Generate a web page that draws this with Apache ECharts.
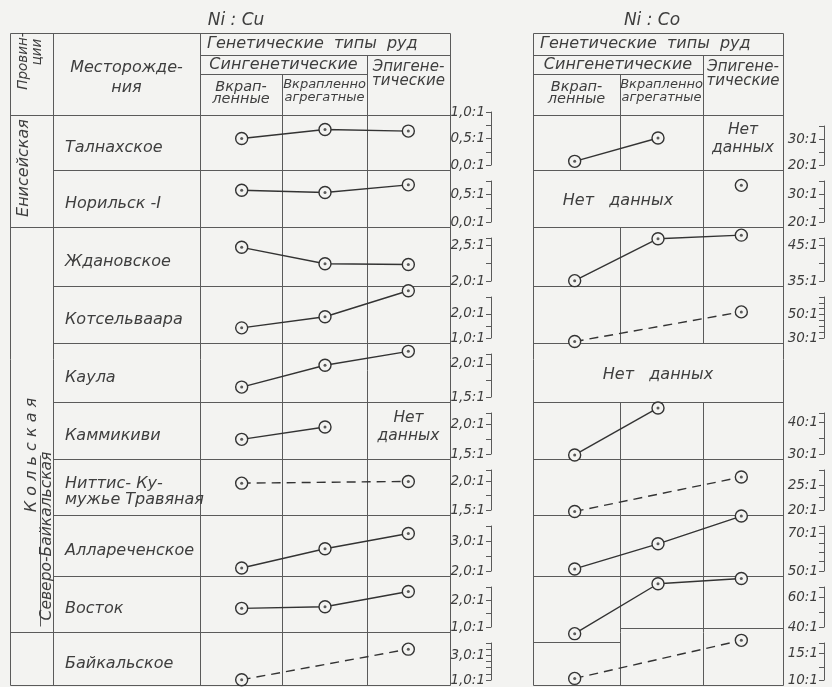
<!DOCTYPE html>
<html>
<head>
<meta charset="utf-8">
<script src="https://cdn.jsdelivr.net/npm/echarts@6/dist/echarts.min.js"></script>
<style>
  html, body { margin: 0; padding: 0; background: #f3f3f1; }
  #chart { width: 832px; height: 687px; }
</style>
</head>
<body>
<div id="chart"></div>
<script>
// Genetic ore types: the three columns of every row
const oreTypes = ['Вкрапленные', 'Вкрапленно-агрегатные', 'Эпигенетические'];

const deposits = [
  'Талнахское', 'Норильск -I', 'Ждановское', 'Котсельваара', 'Каула',
  'Каммикиви', 'Ниттис- Ку-\nмужье Травяная', 'Аллареченское', 'Восток', 'Байкальское'
];

// Ni : Cu ratio per deposit and ore type (null = not determined)
const niCu = [
  [0.50, 0.67, 0.64],
  [0.58, 0.54, 0.68],
  [2.47, 2.24, 2.23],
  [1.42, 1.88, 2.96],
  [1.65, 1.98, 2.19],
  [1.75, 1.96, null],
  [1.97, null, 2.00],
  [2.10, 2.74, 3.25],
  [1.70, 1.76, 2.33],
  [1.02, null, 3.50]
];
const niCuDashed = [false, false, false, false, false, false, true, false, false, true];
const niCuLabels = [[0, 0.5, 1.0], [0, 0.5], [2.0, 2.5], [1.0, 2.0], [1.5, 2.0],
                    [1.5, 2.0], [1.5, 2.0], [2.0, 3.0], [1.0, 2.0], [1.0, 3.0]];
const niCuAxisTop = [1.0, 0.75, 2.6, 2.7, 2.15, 2.2, 2.2, 3.5, 2.5, 4.0];
const niCuTickStep = [0.25, 0.25, 0.25, 0.5, 0.25, 0.25, 0.25, 0.5, 0.5, 0.5];

// Ni : Co ratio per deposit and ore type
const niCo = [
  [21.4, 30.4, null],
  [null, null, 33.4],
  [35.1, 46.8, 47.8],
  [27.0, null, 52.3],
  [null, null, null],
  [29.7, 44.6, null],
  [19.7, null, 26.6],
  [51.1, 64.5, 79.3],
  [35.5, 69.2, 72.7],
  [10.3, null, 17.5]
];
const niCoDashed = [false, false, false, true, false, false, true, false, false, true];
const niCoLabels = [[20, 30], [20, 30], [35, 45], [30, 50], null,
                    [30, 40], [20, 25], [50, 70], [40, 60], [10, 15]];
const niCoAxisTop = [35, 35, 47, 65, null, 43, 28, 74, 67, 17];
const niCoTickStep = [5, 5, 5, 5, null, 5, 2.5, 5, 10, 2.5];

// "no data" cells: panel, row, first and last column covered
const noData = [
  { panel: 0, row: 5, from: 2, to: 2 },
  { panel: 1, row: 0, from: 2, to: 2 },
  { panel: 1, row: 1, from: 0, to: 1 },
  { panel: 1, row: 4, from: 0, to: 2 }
];

// ---- layout ----
const ROWS = [115, 170, 227, 286, 343, 402, 459, 515, 576, 632, 685];
const HEAD = [33, 55, 74, 115];
const NAME_COL = [10, 53, 200];
const AXIS_GAP = 41;
const INK = '#333333', RULE = '#5a5a5a', TEXT = '#3e3e3e', PAPER = '#f3f3f1';
const FAM = '"DejaVu Sans", "Liberation Sans", sans-serif';
const font = (size) => 'italic ' + size + 'px ' + FAM;

const panels = [
  { title: 'Ni : Cu', titleX: 236, cols: [200, 282, 367, 450],
    values: niCu, dashed: niCuDashed, labels: niCuLabels, top: niCuAxisTop, step: niCuTickStep,
    fmt: v => v.toFixed(1).replace('.', ',') + ':1' },
  { title: 'Ni : Co', titleX: 652, cols: [533, 620, 703, 783],
    values: niCo, dashed: niCoDashed, labels: niCoLabels, top: niCoAxisTop, step: niCoTickStep,
    fmt: v => Math.round(v) + ':1' }
];

const grids = [], xAxes = [], yAxes = [], series = [], graphic = [];

panels.forEach((p, pi) => {
  p.values.forEach((vals, r) => {
    const labels = p.labels[r];
    if (!labels) return;
    const lo = labels[0], hi = labels[labels.length - 1], top = p.top[r], step = p.step[r];
    const tickSet = new Set(labels.concat([top]));
    for (let v = lo; v <= top - step * 0.6; v += step) tickSet.add(+v.toFixed(4));
    const ticks = Array.from(tickSet).sort((a, b) => a - b);
    const gTop = ROWS[r] + (top > hi ? 11 : -3);
    const gBottom = ROWS[r + 1] - 5;
    const gi = grids.length;
    grids.push({ left: p.cols[0], width: p.cols[3] - p.cols[0], top: gTop, height: gBottom - gTop,
                 containLabel: false, outerBoundsMode: 'none' });
    xAxes.push({ type: 'category', gridIndex: gi, data: oreTypes, show: false, boundaryGap: true });
    yAxes.push({
      type: 'value', gridIndex: gi, position: 'right', offset: AXIS_GAP, min: lo, max: top,
      splitLine: { show: false },
      axisLine: { show: true, lineStyle: { color: RULE, width: 1 } },
      axisTick: { show: true, inside: true, length: 5, customValues: ticks,
                  lineStyle: { color: RULE, width: 1 } },
      axisLabel: { show: true, inside: true, margin: 6, customValues: labels, formatter: p.fmt,
                   color: TEXT, fontSize: 13.5, fontStyle: 'italic', fontFamily: FAM }
    });
    const dashed = p.dashed[r];
    series.push({
      type: 'line', xAxisIndex: gi, yAxisIndex: gi, data: vals, connectNulls: dashed,
      clip: false, symbol: 'circle', symbolSize: 12, showAllSymbol: true, silent: true, z: 3,
      lineStyle: { color: INK, width: 1.4, type: dashed ? [9, 6] : 'solid' },
      itemStyle: { color: PAPER, borderColor: INK, borderWidth: 1.4 }
    });
    series.push({
      type: 'scatter', xAxisIndex: gi, yAxisIndex: gi, data: vals, clip: false,
      symbol: 'circle', symbolSize: 3, silent: true, z: 4, itemStyle: { color: INK }
    });
  });
});

// ---- table rules ----
function rule(x1, y1, x2, y2) {
  graphic.push({ type: 'line', silent: true, z: 1,
    shape: { x1: x1 + 0.5, y1: y1 + 0.5, x2: x2 + 0.5, y2: y2 + 0.5 },
    style: { stroke: RULE, lineWidth: 1 } });
}
// left table
{
  const [c0, c1, c2, c3] = panels[0].cols;
  const L = NAME_COL[0];
  rule(L, HEAD[0], c3, HEAD[0]);
  rule(c0, HEAD[1], c3, HEAD[1]);
  rule(c0, HEAD[2], c2, HEAD[2]);
  rule(L, HEAD[3], c3, HEAD[3]);
  [L, NAME_COL[1], c0, c3].forEach(x => rule(x, HEAD[0], x, ROWS[10]));
  rule(c1, HEAD[2], c1, ROWS[10]);
  rule(c2, HEAD[1], c2, ROWS[10]);
  const provinceBreaks = [2, 9, 10];
  for (let r = 1; r < ROWS.length; r++) {
    const x = provinceBreaks.includes(r) ? L : NAME_COL[1];
    rule(x, ROWS[r], c3, ROWS[r]);
  }
}
// right table
{
  const c = panels[1].cols;
  rule(c[0], HEAD[0], c[3], HEAD[0]);
  rule(c[0], HEAD[1], c[3], HEAD[1]);
  rule(c[0], HEAD[2], c[2], HEAD[2]);
  rule(c[0], HEAD[3], c[3], HEAD[3]);
  rule(c[0], HEAD[0], c[0], ROWS[10]);
  rule(c[3], HEAD[0], c[3], ROWS[10]);
  rule(c[1], HEAD[2], c[1], HEAD[3]);
  rule(c[2], HEAD[1], c[2], HEAD[3]);
  // inner dividers, skipped where cells are merged
  [1, 2].forEach(k => {
    for (let r = 0; r < 10; r++) {
      const merged = noData.some(n => n.panel === 1 && n.row === r && n.from < k && n.to >= k);
      if (!merged) rule(c[k], ROWS[r], c[k], ROWS[r + 1]);
    }
  });
  for (let r = 1; r <= 8; r++) rule(c[0], ROWS[r], c[3], ROWS[r]);
  // stepped border between Восток and Байкальское
  rule(c[0], ROWS[9] + 10, c[1], ROWS[9] + 10);
  rule(c[1], ROWS[9] - 4, c[3], ROWS[9] - 4);
  rule(c[0], ROWS[10], c[3], ROWS[10]);
}

// ---- texts ----
function text(str, x, y, size, opts) {
  graphic.push(Object.assign({ type: 'text', x: x, y: y, silent: true, z: 5,
    style: Object.assign({ text: str, font: font(size), fill: TEXT,
      align: 'center', verticalAlign: 'middle' }, (opts && opts.style) || {}) },
    opts && opts.rotation ? { rotation: opts.rotation } : {}));
}
const UP = Math.PI / 2;

panels.forEach((p, pi) => {
  const [c0, c1, c2, c3] = p.cols;
  text(p.title, p.titleX, 21, 17);
  text('Генетические  типы  руд', c0 + 7, 44, 16, { style: { align: 'left' } });
  text('Сингенетические', (c0 + c2) / 2, 65, 16);
  text('Эпигене-\nтические', (c2 + c3) / 2, 74, 15, { style: { lineHeight: 14 } });
  text('Вкрап-\nленные', (c0 + c1) / 2, 93, 14.5, { style: { lineHeight: 12.5 } });
  text('Вкрапленно\nагрегатные', (c1 + c2) / 2, 91, 13, { style: { lineHeight: 13.5 } });
});

text('Месторожде-\nния', (NAME_COL[1] + NAME_COL[2]) / 2, 78, 16, { style: { lineHeight: 20 } });
text('Провин-', 23, 61, 13.5, { rotation: UP });
text('ции', 37, 52, 13.5, { rotation: UP });

deposits.forEach((name, r) => {
  const cy = (ROWS[r] + ROWS[r + 1]) / 2 + 5;
  text(name, 65, cy, 16, { style: { align: 'left', lineHeight: 16 } });
});

// provinces
text('Енисейская', 24, 168, 16, { rotation: UP });
text('К о л ь с к а я', 32, 455, 16, { rotation: UP });
text('Северо-Байкальская', 47, 536, 15.5, { rotation: UP });
rule(40, 455, 40, 626);

// "no data" notes
noData.forEach(n => {
  const c = panels[n.panel].cols;
  const cx = (c[n.from] + c[n.to + 1]) / 2;
  const cy = (ROWS[n.row] + ROWS[n.row + 1]) / 2;
  if (n.from === n.to) text('Нет\nданных', cx, cy - 4, 15.5, { style: { lineHeight: 18 } });
  else text('Нет   данных', cx, cy + 2, 16);
});

const chart = echarts.init(document.getElementById('chart'), null, { renderer: 'canvas' });
chart.setOption({
  backgroundColor: PAPER,
  animation: false,
  grid: grids,
  xAxis: xAxes,
  yAxis: yAxes,
  series: series,
  graphic: graphic
});
</script>
</body>
</html>
